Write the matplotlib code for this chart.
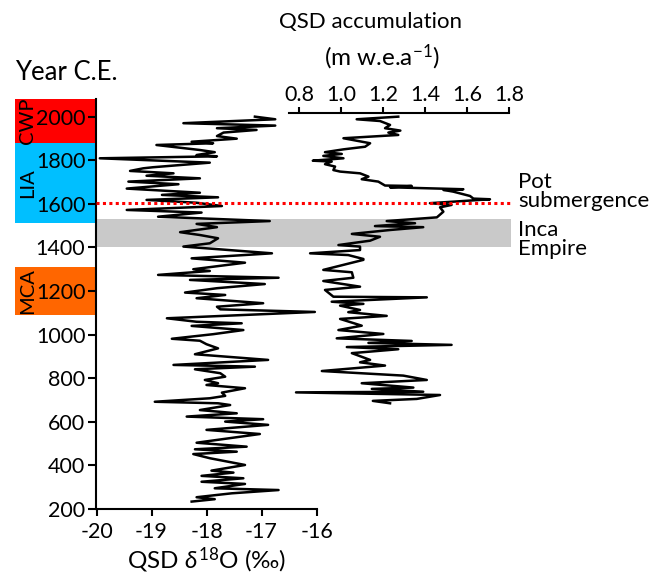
import matplotlib
matplotlib.use("Agg")
import matplotlib.pyplot as plt
from matplotlib.patches import Rectangle

plt.rcParams['font.family'] = ['Lato', 'DejaVu Sans']
plt.rcParams['mathtext.fontset'] = 'custom'
plt.rcParams['mathtext.rm'] = 'Lato'
plt.rcParams['mathtext.it'] = 'Lato:italic'
plt.rcParams['mathtext.bf'] = 'Lato:bold'

# ---------------- data ----------------
d18o_year = [2000, 1988, 1970, 1959, 1947, 1939, 1927, 1911, 1899, 1885, 1878, 1870,
             1847, 1837, 1824, 1818, 1809, 1789, 1768, 1763, 1751, 1740, 1729, 1717,
             1702, 1690, 1670, 1651, 1641, 1630, 1618, 1605, 1590, 1572, 1560, 1541,
             1521, 1508, 1493, 1470, 1457, 1442, 1419, 1404, 1373, 1350, 1330, 1300,
             1292, 1274, 1261, 1251, 1232, 1213, 1193, 1182, 1167, 1144, 1128, 1116,
             1104, 1075, 1059, 1052, 1040, 1021, 1002, 981, 972, 956, 937, 910, 884,
             861, 853, 841, 823, 807, 792, 777, 769, 754, 734, 719, 708, 692, 685,
             677, 654, 639, 624, 612, 601, 586, 563, 544, 504, 486, 474, 463, 452,
             433, 402, 376, 367, 352, 341, 325, 315, 295, 287, 272, 254, 245, 234]
d18o_val = [-17.12, -16.75, -18.42, -16.75, -17.81, -17.09, -17.69, -17.81, -17.45,
            -18.27, -17.88, -18.91, -18.12, -17.85, -18.18, -17.81, -19.94, -17.94,
            -18.97, -19.15, -19.39, -18.60, -19.09, -18.12, -19.42, -18.51, -19.45,
            -18.12, -18.81, -17.79, -19.09, -18.18, -17.72, -19.45, -18.09, -18.88,
            -16.85, -18.18, -17.81, -18.48, -18.12, -17.79, -17.94, -18.42, -16.81,
            -18.27, -17.30, -18.24, -17.94, -18.88, -16.69, -18.30, -16.94, -17.81,
            -18.39, -17.66, -18.18, -16.97, -17.81, -17.75, -16.03, -18.72, -18.18,
            -17.36, -18.27, -17.33, -17.88, -18.63, -18.12, -18.00, -17.79, -18.21,
            -16.88, -18.60, -17.12, -18.21, -17.75, -17.66, -18.03, -17.79, -18.00,
            -17.30, -17.72, -17.66, -17.94, -18.94, -17.79, -17.57, -18.12, -17.45,
            -18.36, -16.97, -17.66, -16.88, -18.00, -17.03, -18.18, -17.27, -18.21,
            -17.45, -18.24, -17.94, -17.30, -17.91, -17.51, -18.09, -17.33, -18.09,
            -17.30, -17.85, -16.69, -17.54, -18.18, -17.85, -18.27]

acc_year = [2000, 1988, 1980, 1962, 1947, 1936, 1927, 1916, 1901, 1878, 1862, 1850,
            1837, 1829, 1820, 1809, 1798, 1794, 1782, 1771, 1755, 1748, 1740, 1725,
            1713, 1702, 1684, 1682, 1676, 1667, 1664, 1656, 1636, 1624, 1621, 1603,
            1595, 1584, 1564, 1538, 1521, 1511, 1498, 1493, 1480, 1462, 1449, 1431,
            1411, 1404, 1388, 1373, 1365, 1347, 1343, 1297, 1286, 1261, 1246, 1220,
            1205, 1174, 1171, 1151, 1141, 1133, 1113, 1103, 1086, 1072, 1041, 1021,
            1003, 983, 971, 962, 953, 943, 933, 915, 884, 873, 858, 833, 812, 792,
            777, 757, 751, 738, 735, 723, 705, 696, 685]
acc_val = [1.271, 1.073, 1.184, 1.232, 1.208, 1.281, 1.224, 1.271, 1.010, 1.137,
           1.113, 1.010, 0.922, 1.002, 0.914, 1.010, 0.864, 0.954, 0.922, 0.970,
           0.962, 0.994, 1.089, 1.129, 1.097, 1.176, 1.208, 1.335, 1.232, 1.581,
           1.486, 1.533, 1.613, 1.629, 1.708, 1.422, 1.525, 1.470, 1.486, 1.455,
           1.216, 1.351, 1.160, 1.390, 1.232, 1.050, 1.184, 1.137, 0.986, 1.089,
           1.089, 0.851, 1.033, 1.105, 1.105, 0.914, 1.050, 1.057, 0.914, 1.089,
           0.922, 0.962, 1.407, 0.954, 1.105, 0.994, 1.089, 1.033, 1.216, 0.994,
           1.097, 0.986, 1.200, 0.978, 1.335, 1.129, 1.525, 1.026, 1.271, 1.050,
           1.137, 1.089, 1.208, 0.907, 1.295, 1.407, 1.097, 1.343, 1.145, 1.390,
           0.784, 1.470, 1.359, 1.150, 1.232]

periods = ['CWP', 'LIA', 'MCA']
period_start = [1878, 1514, 1090]
period_end = [2081, 1878, 1309]
period_colors = ['#ff0000', '#00bfff', '#ff6600']

inca_start, inca_end = 1400, 1530
pot_year = 1605

year_ticks = [200, 400, 600, 800, 1000, 1200, 1400, 1600, 1800, 2000]
d18o_ticks = [-20, -19, -18, -17, -16]
acc_ticks = [0.8, 1.0, 1.2, 1.4, 1.6, 1.8]

# ---------------- layout ----------------
W, H = 653, 579
fig = plt.figure(figsize=(W / 100, H / 100), dpi=100)

def fx(px):
    return px / W

def fy(py):
    return 1 - py / H

Y0, Y1 = 200, 2081
ax_l, ax_r, ax_b, ax_t = 96.5, 316.5, 509, 99
ax = fig.add_axes([fx(ax_l), fy(ax_b), fx(ax_r - ax_l), (ax_b - ax_t) / H])
ax.patch.set_alpha(0)
ax.set_ylim(Y0, Y1)
ax.set_xlim(-20, -16)

# grey band (extends to the right)
ext = (511 - ax_l) / (ax_r - ax_l)
ax.add_patch(Rectangle((0, inca_start), ext, inca_end - inca_start,
                       transform=ax.get_yaxis_transform(), clip_on=False,
                       facecolor='#c9c9c9', edgecolor='none', zorder=0.2))

# period boxes
bx0 = (15 - ax_l) / (ax_r - ax_l)
for name, s, e, c in zip(periods, period_start, period_end, period_colors):
    ax.add_patch(Rectangle((bx0, s), -bx0, e - s, transform=ax.get_yaxis_transform(),
                           clip_on=False, facecolor=c, edgecolor='none', zorder=0.3))
    ax.text((28 - ax_l) / (ax_r - ax_l), (s + e) / 2, name, rotation=90,
            transform=ax.get_yaxis_transform(), ha='center', va='center',
            fontsize=14.5, color='black', zorder=3)

ax.plot(d18o_val, d18o_year, color='black', lw=1.8, zorder=2, clip_on=False)

for sp in ['top', 'right']:
    ax.spines[sp].set_visible(False)
for sp in ['left', 'bottom']:
    ax.spines[sp].set_linewidth(1.5)
ax.set_yticks(year_ticks)
ax.set_xticks(d18o_ticks)
ax.tick_params(axis='both', width=1.5, labelsize=15.5, direction='out')
ax.tick_params(axis='y', length=6, pad=2)
ax.tick_params(axis='x', length=5, pad=4)
ax.set_xticklabels([str(t) for t in d18o_ticks])
ax.set_xlabel(r'QSD $\delta^{\mathregular{18}}$O (‰)', fontsize=17.5, labelpad=3)

# accumulation axes
a_l, a_r, a_t = 289.3, 509.3, 113.3
ytop2 = Y0 + (ax_b - a_t) / (ax_b - ax_t) * (Y1 - Y0)
ax2 = fig.add_axes([fx(a_l), fy(ax_b), fx(a_r - a_l), (ax_b - a_t) / H])
ax2.patch.set_alpha(0)
ax2.set_ylim(Y0, ytop2)
ax2.set_xlim(0.752, 1.8)
ax2.plot(acc_val, acc_year, color='black', lw=1.8, zorder=2)
for sp in ['bottom', 'left', 'right']:
    ax2.spines[sp].set_visible(False)
ax2.spines['top'].set_linewidth(1.5)
ax2.set_yticks([])
ax2.xaxis.set_ticks_position('top')
ax2.set_xticks(acc_ticks)
ax2.set_xticklabels(['%.1f' % t for t in acc_ticks])
ax2.tick_params(axis='x', width=1.5, length=4, labelsize=15.5, direction='out', pad=2)

# red dotted line on top
ax3 = fig.add_axes([fx(ax_l), fy(ax_b), fx(511 - ax_l), (ax_b - ax_t) / H])
ax3.set_ylim(Y0, Y1)
ax3.set_xlim(0, 1)
ax3.axis('off')
ax3.plot([0, 1], [pot_year, pot_year], color='#ff0000', lw=2.2,
         linestyle=(0, (1, 1.1)))

# texts
fig.text(fx(15), fy(80), 'Year C.E.', fontsize=18.5, ha='left', va='baseline')
fig.text(fx(371), fy(28), 'QSD accumulation', fontsize=16, ha='center', va='baseline')
fig.text(fx(382), fy(65), r'(m w.e.a$^{\mathregular{-1}}$)', fontsize=17.5,
         ha='center', va='baseline')
fig.text(fx(518), fy(207), 'Pot\nsubmergence', fontsize=16, ha='left',
         va='baseline', linespacing=0.95)
fig.text(fx(518), fy(255), 'Inca\nEmpire', fontsize=16, ha='left',
         va='baseline', linespacing=0.95)

fig.savefig('out.png', dpi=100)
